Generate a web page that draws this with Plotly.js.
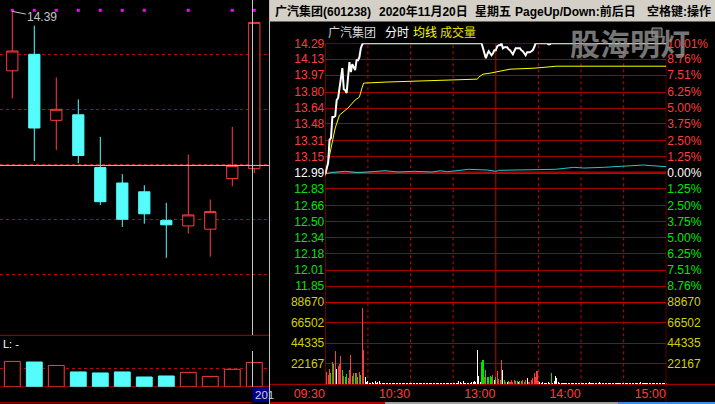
<!DOCTYPE html>
<html><head><meta charset="utf-8">
<script src="https://cdn.plot.ly/plotly-3.0.1.min.js"></script>
<style>html,body{margin:0;padding:0;background:#000;overflow:hidden}#chart{width:715px;height:404px}</style>
</head><body><div id="chart"></div>
<script>
// ---- daily candles (left panel) ----
const dates = ['11-05','11-06','11-09','11-10','11-11','11-12','11-13','11-16','11-17','11-18','11-19','11-20'];
const dayOpen  = [13.85,14.00,13.40,13.45,12.97,12.83,12.75,12.49,12.44,12.41,12.87,12.96];
const dayHigh  = [14.39,14.26,13.79,13.59,13.25,12.91,12.81,12.65,13.09,12.68,13.34,14.29];
const dayLow   = [13.60,13.03,13.13,13.01,12.63,12.43,12.46,12.15,12.37,12.16,12.80,12.92];
const dayClose = [14.03,13.33,13.50,13.08,12.66,12.50,12.55,12.45,12.54,12.57,12.99,14.29];
const dayVol   = [125,122,105,73,68,73,48,53,71,51,86,120];
const markDays = ['11-05','11-06','11-09','11-10','11-11','11-12','11-13','11-17','11-19','11-20'];
const dayGrid  = [12.0,12.5,13.0,13.5,14.0];

// ---- intraday (right panel), x = minutes since 09:30 ----
const prevClose = 12.99;
const priceT = [0,1,2,3,4,5,6,7,8,9,10,11,12,13,14,15,16,17,18,19,20,21,22,23,24,25,26,27,
  110,111,112,113,114,115,116,117,118,119,120,121,122,123,124,125,126,127,128,129,130,131,132,133,134,135,136,137,138,139,140,141,142,143,144,145,146,147,148,
  156,157,158,159,240];
const priceV = [12.98,13.05,13.09,13.32,13.34,13.55,13.55,13.56,13.72,13.74,13.84,13.95,14.04,13.83,13.82,13.79,13.92,14.10,14.00,14.08,14.05,14.02,14.12,14.12,14.15,14.24,14.28,14.29,
  14.29,14.24,14.19,14.14,14.18,14.21,14.19,14.17,14.19,14.22,14.22,14.26,14.27,14.27,14.29,14.24,14.25,14.25,14.25,14.23,14.22,14.20,14.18,14.21,14.24,14.24,14.24,14.24,14.22,14.21,14.19,14.17,14.20,14.20,14.20,14.21,14.22,14.25,14.29,
  14.29,14.28,14.28,14.29,14.29];
const avgT = [0,3,5,7,10,14,16,21,24,26,27,42,69,94,107,108,111,116,122,130,147,154,163,240];
const avgV = [12.96,13.17,13.30,13.44,13.57,13.62,13.64,13.72,13.75,13.85,13.89,13.90,13.91,13.92,13.93,13.95,13.98,13.99,14.01,14.03,14.04,14.05,14.06,14.06];
const leadT = [0,4,14,23,30,42,51,63,75,81,86,94,101,114,120,122,151,162,175,182,196,216,224,240];
const leadV = [12.977,12.99,13.004,12.99,12.997,13.01,12.997,13.004,12.997,13.01,13.00,13.01,13.024,13.017,13.004,13.014,13.017,13.024,13.044,13.037,13.044,13.057,13.067,13.05];

// volume per minute, minutes 1..240
const vol = [
 13700,10100,16700,12700,23600,22100,35500,16700,19900,22100,
 30100,15600,9000,7600,11200,6800,14900,31900,9000,12700,
 12000,12700,8000,13800,10100,81800,37300,7600,2900,3600,
 1500,1800,2700,1700,3300,1400,2000,3900,1600,1200,
 1900,1100,1500,900,1300,1800,1000,1400,1200,1600,
 900,1100,1500,1300,1000,1700,1200,900,1400,1100,
 1600,1000,1300,1200,900,1500,1100,1000,1400,1200,
 900,1300,1100,1500,1000,1200,1400,900,1100,1300,
 1000,1600,1200,900,1400,1100,1300,1000,1500,1200,
 1100,1400,1700,3600,2400,1500,3300,1900,1300,1600,
 1200,1800,2600,2200,3100,2000,37300,9000,3000,23900,
 26400,8300,14900,8300,7600,9000,8300,10100,4700,8300,
 14500,5400,4700,26400,15600,4700,2900,2500,4000,3000,
 4700,2200,4400,3200,4000,2000,3500,4100,4400,3000,
 4700,6500,2800,3000,4700,6500,12000,8300,14500,3500,
 2200,1500,2000,1200,1400,1800,2500,1200,12700,1300,
 3600,9000,7200,2500,1200,1000,1300,900,1100,1000,
 1200,1000,1400,900,1100,1000,1200,1300,1000,900,
 1100,1000,1200,1000,900,2200,1100,1000,1200,1000,
 900,1100,2000,1000,1200,1000,1100,900,1000,1200,
 1000,1100,1000,900,1200,1000,1100,1000,900,1000,
 1100,1000,1200,1000,1100,900,1000,1200,1000,1100,
 1000,2000,1100,1000,900,1000,1200,1000,1100,1000,
 1000,900,1100,1000,1200,1000,1100,1000,900,1000];
const volDir = ('rrrgrgrwrr'+'rgrggrrrgr'+'grgrgrrwww'+'wwwwwwwwww'+'wwwwwwwwww'+'wwwwwwwwww'+'wwwwwwwwww'+'wwwwwwwwww'+'wwwwwwwwww'+'wwwwwwwwww'+
  'wwwwwwwwwg'+'grgggggrwg'+'rrgrwgrwgr'+'rrrggwggrg'+'rwrrrrrrrr'+'wwwwwwwwgw'+
  'wwwwwwwwww'+'wwwwwwwwww'+'wwwwwwwwww'+'wwwwwwwwww'+'wwwwwwwwww'+'wwwwwwwwww'+'wwwwwwwwww'+'wwwwwwwwww').split('');

const priceTicks = [14.29,14.13,13.97,13.80,13.64,13.48,13.31,13.15,12.99,12.83,12.66,12.50,12.34,12.18,12.01,11.85];
const priceLabels = ['14.29','14.13','13.97','13.80','13.64','13.48','13.31','13.15','12.99','12.83','12.66','12.50','12.34','12.18','12.01','11.85'];
const pctLabels = ['10.01%','8.76%','7.51%','6.25%','5.00%','3.75%','2.50%','1.25%','0.00%','1.25%','2.50%','3.75%','5.00%','6.25%','7.51%','8.76%'];
const volMax = 88670;
const volTicks = [22167,44335,66502,88670];
const volLabels = ['22167','44335','66502','88670'];
const timeTicks = [0,60,120,180,240];
const timeLabels = ['09:30','10:30','13:00','14:00','15:00'];
const dashMinutes = [30,60,90,150,180,210];

// ---- styling ----
const RED='#ff3c3c', GREEN='#00e600', CYAN='#54fcfc', YEL='#d2d200', GRID='#a00000', BRED='#c80000';
const FONT='Liberation Sans, Noto Sans CJK SC, sans-serif';
const PX = x => x/715, PY = y => 1 - y/404;
const colorFor = v => v > prevClose + 1e-6 ? RED : (v < prevClose - 1e-6 ? GREEN : '#ffffff');
const span = (c,t) => '<span style="color:'+c+'">'+t+'</span>';

const dayUp = dayClose.map((c,i)=>c>=dayOpen[i]);
const traces = [
  {type:'candlestick', x:dates, open:dayOpen, high:dayHigh, low:dayLow, close:dayClose, xaxis:'x', yaxis:'y',
   whiskerwidth:0, increasing:{line:{color:RED,width:1}, fillcolor:'#000000'},
   decreasing:{line:{color:CYAN,width:1}, fillcolor:CYAN}, hoverinfo:'skip'},
  {type:'bar', x:dates, y:dayVol, xaxis:'x', yaxis:'y5', width:0.72,
   marker:{color:dayUp.map(u=>u?'#000000':CYAN), line:{color:dayUp.map(u=>u?RED:CYAN), width:1}}, hoverinfo:'skip'},
  {type:'scatter', mode:'markers', x:markDays, y:markDays.map(()=>14.40), xaxis:'x', yaxis:'y',
   marker:{symbol:'square', size:3, color:'#ff00ff'}, hoverinfo:'skip'},
  {type:'bar', x:vol.map((v,i)=>i+1), y:vol, xaxis:'x2', yaxis:'y3', width:0.72,
   marker:{color:volDir.map(d=>d==='r'?RED:(d==='g'?GREEN:'#ffffff')), line:{width:0}}, hoverinfo:'skip'},
  // invisible companions so the right-hand (percent / volume) axes get drawn
  {type:'scatter', mode:'lines', x:priceT, y:priceV, xaxis:'x2', yaxis:'y4', line:{color:'rgba(0,0,0,0)', width:0}, hoverinfo:'skip'},
  {type:'scatter', mode:'lines', x:vol.map((v,i)=>i+1), y:vol, xaxis:'x2', yaxis:'y6', line:{color:'rgba(0,0,0,0)', width:0}, hoverinfo:'skip'},
  {type:'scatter', mode:'lines', x:leadT, y:leadV, xaxis:'x2', yaxis:'y2', line:{color:'#20c8c8', width:1}, hoverinfo:'skip'},
  {type:'scatter', mode:'lines', x:avgT, y:avgV, xaxis:'x2', yaxis:'y2', line:{color:'#ffff00', width:1}, hoverinfo:'skip'},
  {type:'scatter', mode:'lines', x:priceT, y:priceV, xaxis:'x2', yaxis:'y2', line:{color:'#ffffff', width:2}, hoverinfo:'skip'}
];

const shapes = [];
const L = (o) => shapes.push(Object.assign({type:'line', layer:'below'}, o));
// title bar
shapes.push({type:'rect', xref:'paper', yref:'paper', x0:PX(269.5), x1:1, y0:PY(21.5), y1:1, fillcolor:'#d4d0c8', line:{width:0}, layer:'above'});
// left panel frame lines
L({xref:'paper', yref:'paper', x0:0, x1:PX(269), y0:PY(335.3), y1:PY(335.3), line:{color:'#b40000', width:1}});
L({xref:'paper', yref:'paper', x0:0, x1:PX(269), y0:PY(386.7), y1:PY(386.7), line:{color:'#b40000', width:1}});
L({xref:'paper', yref:'paper', x0:0, x1:PX(252), y0:PY(402.7), y1:PY(402.7), line:{color:'#b40000', width:1}});
shapes.push({type:'rect', xref:'paper', yref:'paper', x0:PX(252.7), x1:PX(269.3), y0:PY(402), y1:PY(387.7), fillcolor:'#000090', line:{width:0}, layer:'above'});
// crosshair
shapes.push({type:'line', xref:'paper', yref:'y', x0:0, x1:PX(269), y0:prevClose, y1:prevClose, line:{color:'#c8c8c8', width:1}, layer:'above'});
shapes.push({type:'line', xref:'paper', yref:'paper', x0:PX(252.5), x1:PX(252.5), y0:PY(335), y1:1, line:{color:'#c8c8c8', width:1}, layer:'above'});
shapes.push({type:'line', xref:'paper', yref:'paper', x0:PX(252.5), x1:PX(252.5), y0:PY(386.7), y1:PY(351), line:{color:'#c8c8c8', width:1}, layer:'above'});
// divider
shapes.push({type:'line', xref:'paper', yref:'paper', x0:PX(269.5), x1:PX(269.5), y0:0, y1:1, line:{color:'#c0c0c0', width:1}, layer:'above'});
// right plot frame
L({xref:'x2', yref:'paper', x0:0, x1:0, y0:PY(384.3), y1:PY(43.3), line:{color:BRED, width:1}});
L({xref:'x2', yref:'paper', x0:240, x1:240, y0:0, y1:PY(43.3), line:{color:BRED, width:1}});
L({xref:'x2', yref:'y2', x0:0, x1:240, y0:14.29, y1:14.29, line:{color:BRED, width:1}});
L({xref:'paper', yref:'paper', x0:PX(270), x1:1, y0:PY(384.3), y1:PY(384.3), line:{color:BRED, width:1}});
L({xref:'x2', yref:'y2', x0:0, x1:240, y0:prevClose, y1:prevClose, line:{color:BRED, width:2.5}});
L({xref:'x2', yref:'y3', x0:0, x1:240, y0:volMax, y1:volMax, line:{color:BRED, width:2.5}});
dashMinutes.forEach(m => L({xref:'x2', yref:'paper', x0:m, x1:m, y0:PY(384.3), y1:PY(43.3), line:{color:'#d00000', width:1, dash:'dot'}}));
L({xref:'x2', yref:'paper', x0:120, x1:120, y0:PY(384.3), y1:PY(43.3), line:{color:BRED, width:1}});
// bottom scrollbar strip
L({xref:'paper', yref:'paper', x0:PX(270), x1:PX(385), y0:PY(403), y1:PY(403), line:{color:'#b40000', width:2}});
L({xref:'paper', yref:'paper', x0:PX(385), x1:PX(618), y0:PY(403), y1:PY(403), line:{color:'#a0a0a0', width:2}});
L({xref:'paper', yref:'paper', x0:PX(618), x1:1, y0:PY(403), y1:PY(403), line:{color:'#3c8cf0', width:2}});
// small icon
shapes.push({type:'rect', xref:'paper', yref:'paper', x0:PX(652), x1:PX(662), y0:PY(37), y1:PY(28), fillcolor:'#303030', line:{color:'#a0a0a0', width:1}, layer:'above'});

const ann = [];
const A = (o) => ann.push(Object.assign({xref:'paper', yref:'paper', showarrow:false, xanchor:'left', yanchor:'middle', font:{family:FONT, size:12, color:'#000'}}, o));
A({x:PX(273), y:PY(11.5), text:'<b>广汽集团(601238)</b>'});
A({x:PX(377), y:PY(11.5), text:'<b>2020年11月20日</b>'});
A({x:PX(472.5), y:PY(11.5), text:'<b>星期五</b>'});
A({x:PX(513), y:PY(11.5), text:'<b>PageUp/Down:前后日</b>'});
A({x:PX(644.5), y:PY(11.5), text:'<b>空格键:操作</b>'});
A({x:PX(325.5), y:PY(33), text:'广汽集团', font:{family:FONT, size:12, color:'#d8d8d8'}});
A({x:PX(382.5), y:PY(33), text:'分时', font:{family:FONT, size:12, color:'#ffffff'}});
A({x:PX(410.5), y:PY(33), text:'均线', font:{family:FONT, size:12, color:'#ffff00'}});
A({x:PX(438), y:PY(33), text:'成交量', font:{family:FONT, size:12, color:'#e0e000'}});
A({x:PX(630), y:PY(42), xanchor:'center', text:'<b>股海明灯</b>', font:{family:'Noto Sans CJK SC, sans-serif', size:30, color:'rgba(150,150,150,0.78)'}});
A({x:PX(1), y:PY(343.5), text:'L: -', font:{family:FONT, size:11, color:'#ffffff'}});
A({x:PX(252.5), y:PY(395), text:'201', font:{family:FONT, size:11.5, color:'#d0d0d0'}});
ann.push({xref:'x', yref:'y', x:'11-05', y:14.39, text:'14.39', showarrow:true, arrowhead:0, arrowwidth:1, arrowcolor:'#c8c8c8',
  ax:30, ay:6, font:{family:FONT, size:12, color:'#c8c8c8'}});

const axBase = {zeroline:false, showline:false, ticks:'', fixedrange:true, automargin:false};
const layout = {
  width:715, height:404, margin:{l:0, r:0, t:0, b:0, pad:0},
  paper_bgcolor:'#000', plot_bgcolor:'#000', showlegend:false, hovermode:false, boxgap:0.27,
  bargap:0,
  xaxis: Object.assign({}, axBase, {domain:[0, PX(269)], anchor:'y', type:'category', categoryorder:'array', categoryarray:dates,
    range:[-0.559, 11.668], showgrid:false, showticklabels:false, rangeslider:{visible:false}}),
  yaxis: Object.assign({}, axBase, {domain:[PY(335.3), 1], anchor:'x', range:[11.4455, 14.4936], tickmode:'array', tickvals:dayGrid,
    showticklabels:false, showgrid:true, gridcolor:BRED, gridwidth:1, griddash:'dot'}),
  yaxis5: Object.assign({}, axBase, {domain:[PY(386.7), PY(335.3)], anchor:'x', range:[0, 254], tickmode:'array', tickvals:[91],
    showticklabels:false, showgrid:true, gridcolor:BRED, gridwidth:1, griddash:'dot'}),
  xaxis2: Object.assign({}, axBase, {domain:[PX(325.3), PX(666.3)], anchor:'y3', range:[0, 240], tickmode:'array', tickvals:timeTicks,
    ticktext:timeLabels, tickfont:{family:FONT, size:12.5, color:RED}, ticklabelshift:-16, showgrid:false}),
  yaxis2: Object.assign({}, axBase, {domain:[PY(302.1), PY(43.3)], anchor:'x2', range:[11.69, 14.29], tickmode:'array', tickvals:priceTicks,
    ticktext:priceTicks.map((v,i)=>span(colorFor(v), priceLabels[i])), tickfont:{family:FONT, size:12, color:RED},
    showgrid:true, gridcolor:GRID, gridwidth:1, side:'left'}),
  yaxis4: Object.assign({}, axBase, {overlaying:'y2', anchor:'x2', side:'right', range:[11.69, 14.29], tickmode:'array', tickvals:priceTicks,
    ticktext:priceTicks.map((v,i)=>span(colorFor(v), pctLabels[i])), tickfont:{family:FONT, size:12, color:RED}, showgrid:false}),
  yaxis3: Object.assign({}, axBase, {domain:[PY(384.3), PY(302.1)], anchor:'x2', range:[0, volMax], tickmode:'array', tickvals:volTicks,
    ticktext:volLabels, tickfont:{family:FONT, size:12, color:YEL}, showgrid:true, gridcolor:GRID, gridwidth:1, side:'left'}),
  yaxis6: Object.assign({}, axBase, {overlaying:'y3', anchor:'x2', side:'right', range:[0, volMax], tickmode:'array', tickvals:volTicks,
    ticktext:volLabels, tickfont:{family:FONT, size:12, color:YEL}, showgrid:false}),
  shapes: shapes, annotations: ann
};
Plotly.newPlot('chart', traces, layout, {displayModeBar:false, staticPlot:true});
</script></body></html>
